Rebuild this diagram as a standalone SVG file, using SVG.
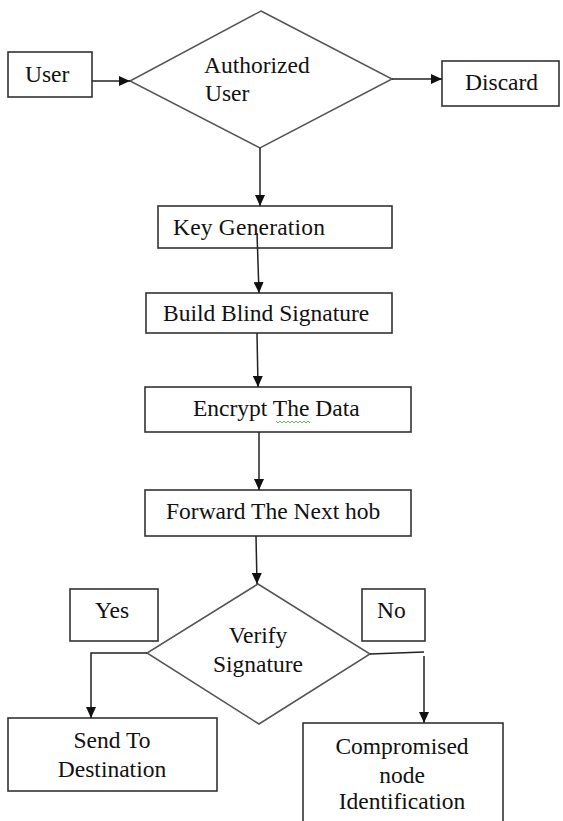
<svg xmlns="http://www.w3.org/2000/svg" width="563" height="821" viewBox="0 0 563 821">
<defs>
<style>
.box{fill:#fff;stroke:#333;stroke-width:1.6}
.dia{fill:#fff;stroke:#555;stroke-width:1.5}
.t{font-family:"Liberation Serif","Times New Roman",serif;font-size:23.5px;fill:#111}
.c{text-anchor:middle}
.ln{fill:none;stroke:#222;stroke-width:1.5}
</style>
<marker id="ah" markerUnits="userSpaceOnUse" markerWidth="12" markerHeight="10" refX="11" refY="5" orient="auto">
<path d="M0,0 L11,5 L0,10 z" fill="#111"/>
</marker>
</defs>
<rect width="563" height="821" fill="#fff"/>
<g id="user"><rect class="box" x="8" y="52" width="84" height="45"/><text class="t" x="25" y="82">User</text></g>
<g id="authorized"><polygon class="dia" points="261,11 392,79 260,148 130,81"/><text class="t" x="204" y="73">Authorized</text><text class="t" x="205" y="101">User</text></g>
<g id="discard"><rect class="box" x="442" y="61" width="117" height="45"/><text class="t" x="465" y="90">Discard</text></g>
<g id="keygen"><rect class="box" x="158" y="206" width="234" height="42"/><text class="t" x="173" y="235" textLength="152">Key Generation</text></g>
<g id="build"><rect class="box" x="146" y="293" width="246" height="40"/><text class="t" x="163" y="321">Build Blind Signature</text></g>
<g id="encrypt"><rect class="box" x="145" y="387" width="266" height="45"/><text class="t" x="193" y="416">Encrypt The Data</text>
<path d="M276,421 l2,2 l2,-2 l2,2 l2,-2 l2,2 l2,-2 l2,2 l2,-2 l2,2 l2,-2 l2,2 l2,-2 l2,2 l2,-2 l2,2 l2,-2 l2,2" fill="none" stroke="#3a3" stroke-width="0.8"/></g>
<g id="forward"><rect class="box" x="145" y="490" width="266" height="46"/><text class="t" x="166" y="519">Forward The Next hob</text></g>
<g id="yes"><rect class="box" x="70" y="589" width="88" height="52"/><text class="t" x="95" y="618">Yes</text></g>
<g id="no"><rect class="box" x="362" y="589" width="63" height="52"/><text class="t" x="377" y="618">No</text></g>
<g id="verify"><polygon class="dia" points="258,584 370,654 259,724 147,653"/><text class="t c" x="258" y="643">Verify</text><text class="t c" x="258" y="672">Signature</text></g>
<g id="send"><rect class="box" x="8" y="718" width="209" height="73"/><text class="t c" x="112" y="748">Send To</text><text class="t c" x="112" y="777">Destination</text></g>
<g id="compromised"><rect class="box" x="303" y="723" width="200" height="110"/><text class="t c" x="402" y="754">Compromised</text><text class="t c" x="402" y="783">node</text><text class="t c" x="402" y="809">Identification</text></g>
<g id="connectors">
<path class="ln" d="M92,81 H130" stroke-width="2" marker-end="url(#ah)"/>
<path class="ln" d="M392,79 H442" marker-end="url(#ah)"/>
<path class="ln" d="M260,148 V206" marker-end="url(#ah)"/>
<path class="ln" d="M257,233 L259,293" marker-end="url(#ah)"/>
<path class="ln" d="M257,333 L258,387" marker-end="url(#ah)"/>
<path class="ln" d="M259,432 L259,490" marker-end="url(#ah)"/>
<path class="ln" d="M256,536 L257,584" marker-end="url(#ah)"/>
<path class="ln" d="M147,653 H91 V718" marker-end="url(#ah)"/>
<path class="ln" d="M370,654 L424,652"/>
<path class="ln" d="M424,656 V723" marker-end="url(#ah)"/>
</g>
</svg>
